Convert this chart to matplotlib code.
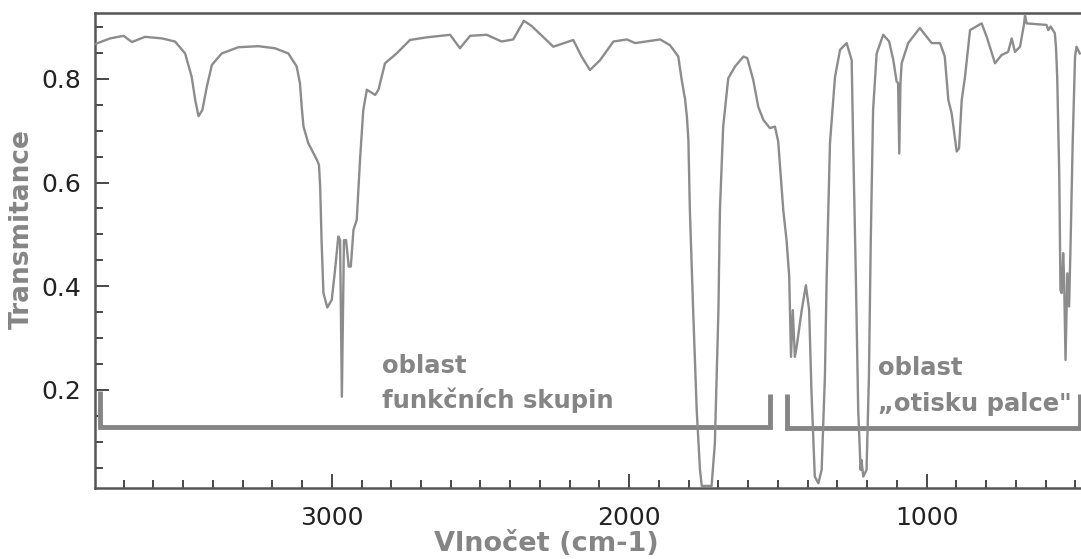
import matplotlib
matplotlib.use("Agg")
import matplotlib.pyplot as plt
from matplotlib.ticker import MultipleLocator

# IR spectrum (wavenumber cm-1, transmittance)
wavenumber = [
    3796, 3745, 3700, 3672, 3628, 3571, 3527, 3493, 3471, 3459, 3448, 3435, 3420, 3403,
    3370, 3314, 3247, 3191, 3146, 3118, 3107, 3101, 3095, 3079, 3050, 3043, 3039, 3034,
    3028, 3015, 3000, 2989, 2978, 2972, 2966, 2959, 2952, 2943, 2936, 2927, 2916, 2905,
    2894, 2882, 2854, 2843, 2821, 2782, 2737, 2681, 2602, 2569, 2535, 2479, 2429, 2390,
    2354, 2328, 2255, 2188, 2160, 2132, 2098, 2053, 2008, 1980, 1896, 1863, 1850, 1835,
    1824, 1812, 1806, 1801, 1796, 1785, 1773, 1762, 1756, 1723, 1712, 1700, 1695, 1684,
    1667, 1644, 1616, 1603, 1583, 1566, 1549, 1527, 1510, 1499, 1482, 1471, 1462, 1456,
    1450, 1443, 1437, 1420, 1406, 1395, 1387, 1376, 1364, 1353, 1342, 1336, 1325, 1308,
    1291, 1269, 1252, 1247, 1238, 1230, 1222, 1219, 1213, 1202, 1194, 1188, 1180, 1168,
    1146, 1126, 1112, 1101, 1096, 1092, 1088, 1084, 1062, 1023, 983, 955, 939, 927,
    916, 899, 891, 882, 871, 854, 815, 798, 770, 748, 726, 714, 703, 686,
    673, 669, 664, 597, 591, 583, 569, 565, 561, 554, 550, 546, 541, 538,
    533, 527, 521, 516, 509, 501, 496, 485,
]
transmittance = [
    0.867, 0.878, 0.883, 0.871, 0.881, 0.878, 0.872, 0.849, 0.804, 0.759, 0.728, 0.740, 0.785, 0.827,
    0.849, 0.861, 0.863, 0.859, 0.849, 0.824, 0.792, 0.746, 0.708, 0.676, 0.644, 0.634, 0.592, 0.483,
    0.387, 0.359, 0.374, 0.431, 0.496, 0.489, 0.187, 0.489, 0.489, 0.438, 0.438, 0.509, 0.528, 0.644,
    0.740, 0.779, 0.769, 0.779, 0.830, 0.849, 0.875, 0.880, 0.885, 0.859, 0.883, 0.885, 0.872, 0.876,
    0.912, 0.902, 0.862, 0.875, 0.843, 0.817, 0.836, 0.872, 0.876, 0.869, 0.876, 0.865, 0.855, 0.843,
    0.800, 0.760, 0.727, 0.682, 0.547, 0.354, 0.161, 0.046, 0.015, 0.015, 0.097, 0.354, 0.547, 0.708,
    0.801, 0.824, 0.843, 0.840, 0.798, 0.746, 0.721, 0.705, 0.708, 0.679, 0.547, 0.489, 0.419, 0.264,
    0.354, 0.264, 0.283, 0.354, 0.402, 0.354, 0.194, 0.033, 0.020, 0.046, 0.226, 0.419, 0.676, 0.804,
    0.856, 0.869, 0.836, 0.676, 0.419, 0.161, 0.046, 0.065, 0.033, 0.046, 0.226, 0.483, 0.740, 0.849,
    0.885, 0.872, 0.836, 0.795, 0.792, 0.656, 0.792, 0.830, 0.869, 0.898, 0.869, 0.869, 0.843, 0.759,
    0.734, 0.660, 0.666, 0.759, 0.804, 0.894, 0.907, 0.881, 0.830, 0.846, 0.852, 0.878, 0.852, 0.862,
    0.904, 0.923, 0.907, 0.904, 0.894, 0.901, 0.888, 0.860, 0.804, 0.611, 0.393, 0.387, 0.464, 0.419,
    0.258, 0.425, 0.361, 0.483, 0.676, 0.843, 0.862, 0.849,
]

xlabel = "Vlnočet (cm-1)"
ylabel = "Transmitance"
region_labels = [("oblast", "funkčních skupin"), ("oblast", "„otisku palce\"")]
# brackets: (start wn, end wn, bar level, top at start, top at end)
brackets = [(3779, 1527, 0.129, 0.198, 0.193), (1471, 484, 0.126, 0.192, 0.192)]
label_pos = [(2831, 0.232, 0.165), (1164, 0.229, 0.160)]

gray = "#858585"
dark = "#3a3a3a"

fig = plt.figure(figsize=(10.81, 5.59), dpi=100)
ax = fig.add_axes([95 / 1081, 1 - 488 / 559, 1 - 95 / 1081, (488 - 13) / 559])

ax.plot(wavenumber, transmittance, color="#8c8c8c", lw=1.7, zorder=3, clip_on=True)

for (x0, x1, yb, yt0, yt1) in brackets:
    ax.plot([x0, x0, x1, x1], [yt0, yb, yb, yt1], color=gray, lw=3.5,
            solid_joinstyle="miter", solid_capstyle="butt", zorder=2)

for (l1, l2), (x, y1, y2) in zip(region_labels, label_pos):
    ax.text(x, y1, l1, ha="left", va="baseline", fontsize=17.5, fontweight="bold",
            color=gray, family="DejaVu Sans")
    ax.text(x, y2, l2, ha="left", va="baseline", fontsize=17.5, fontweight="bold",
            color=gray, family="DejaVu Sans")

ax.set_xlim(3796, 481)
ax.set_ylim(0.011, 0.927)

ax.xaxis.set_major_locator(MultipleLocator(1000))
ax.xaxis.set_minor_locator(MultipleLocator(100))
ax.yaxis.set_major_locator(MultipleLocator(0.2))
ax.yaxis.set_minor_locator(MultipleLocator(0.05))
ax.yaxis.set_major_formatter(plt.FuncFormatter(lambda v, p: f"{v:.1f}"))
ax.xaxis.set_major_formatter(plt.FuncFormatter(lambda v, p: f"{v:.0f}"))

ax.tick_params(which="both", direction="in", color=dark, width=1.3,
               labelsize=18, labelcolor="#222222")
ax.tick_params(which="major", length=10)
ax.tick_params(which="minor", length=6)
ax.tick_params(axis="y", pad=10)
ax.tick_params(axis="x", pad=13)
ax.tick_params(top=False, right=False, which="both")

for s in ["left", "bottom", "top"]:
    ax.spines[s].set_color("#555555")
    ax.spines[s].set_linewidth(1.8)
ax.spines["right"].set_visible(False)

ax.set_xlabel(xlabel, fontsize=19.5, fontweight="bold", color=gray, va="center")
ax.xaxis.set_label_coords((546 - 95) / 986, (488 - 544) / 475)
ax.set_ylabel(ylabel, fontsize=19, fontweight="bold", color=gray, va="center")
ax.yaxis.set_label_coords((22 - 95) / 986, (488 - 229) / 475)

fig.savefig("out.png", dpi=100)
